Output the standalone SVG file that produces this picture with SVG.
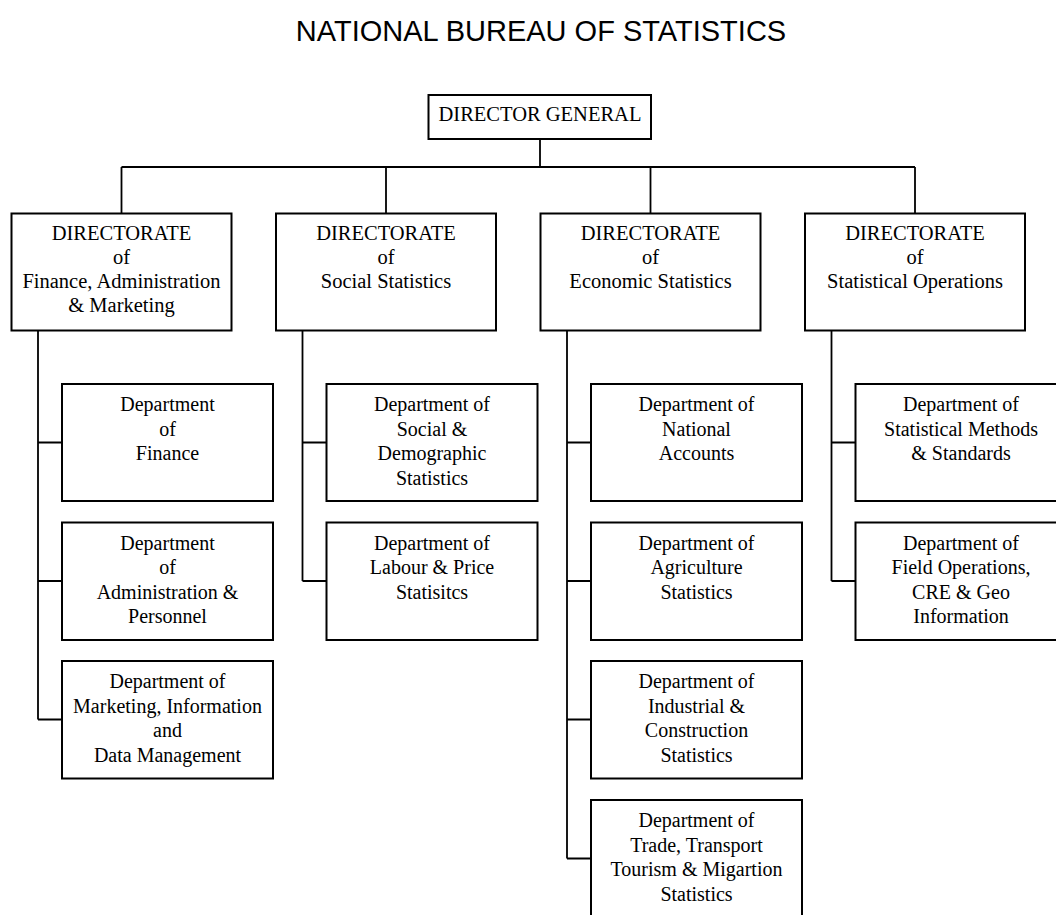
<svg xmlns="http://www.w3.org/2000/svg" width="1056" height="915" viewBox="0 0 1056 915">
<style>
.bx{fill:#fff;stroke:#000;stroke-width:2}
.ln{fill:none;stroke:#000;stroke-width:1.8}
.t{font-family:"Liberation Serif","Times New Roman",serif;font-size:20px;fill:#000;text-anchor:middle}
.d{font-size:20.5px}
.ttl{font-family:"Liberation Sans",Arial,sans-serif;font-size:29px;fill:#000;text-anchor:middle}
</style>
<rect width="1056" height="915" fill="#fff"/>
<text class="ttl" x="541" y="40.5">NATIONAL BUREAU OF STATISTICS</text>

<g id="connectors">
<path class="ln" d="M540,139 V167 M121.5,167 H915 M121.5,167 V213.5 M386,167 V213.5 M650.5,167 V213.5 M915,167 V213.5"/>
<path class="ln" d="M38,330.5 V719.5 M38,442.5 H62 M38,581 H62 M38,719.5 H62"/>
<path class="ln" d="M302.5,330.5 V581 M302.5,442.5 H326.5 M302.5,581 H326.5"/>
<path class="ln" d="M567,330.5 V858.5 M567,442.5 H591 M567,581 H591 M567,719.5 H591 M567,858.5 H591"/>
<path class="ln" d="M831.5,330.5 V581 M831.5,442.5 H855.5 M831.5,581 H855.5"/>
</g>

<g id="dg">
<rect class="bx" x="428.5" y="95" width="222.5" height="44"/>
<text class="t d" x="540" y="121">DIRECTOR GENERAL</text>
</g>

<g id="dir-fam">
<rect class="bx" x="11.5" y="213.5" width="220" height="117"/>
<text class="t d" x="121.5" y="239.5"><tspan x="121.5">DIRECTORATE</tspan><tspan x="121.5" dy="24.3">of</tspan><tspan x="121.5" dy="24.3">Finance, Administration</tspan><tspan x="121.5" dy="24.3">&amp; Marketing</tspan></text>
</g>
<g id="dir-social">
<rect class="bx" x="276" y="213.5" width="220" height="117"/>
<text class="t d" x="386" y="239.5"><tspan x="386">DIRECTORATE</tspan><tspan x="386" dy="24.3">of</tspan><tspan x="386" dy="24.3">Social Statistics</tspan></text>
</g>
<g id="dir-econ">
<rect class="bx" x="540.5" y="213.5" width="220" height="117"/>
<text class="t d" x="650.5" y="239.5"><tspan x="650.5">DIRECTORATE</tspan><tspan x="650.5" dy="24.3">of</tspan><tspan x="650.5" dy="24.3">Economic Statistics</tspan></text>
</g>
<g id="dir-ops">
<rect class="bx" x="805" y="213.5" width="220" height="117"/>
<text class="t d" x="915" y="239.5"><tspan x="915">DIRECTORATE</tspan><tspan x="915" dy="24.3">of</tspan><tspan x="915" dy="24.3">Statistical Operations</tspan></text>
</g>

<g id="dept-finance">
<rect class="bx" x="62" y="384" width="211" height="117"/>
<text class="t" y="411"><tspan x="167.5">Department</tspan><tspan x="167.5" dy="24.5">of</tspan><tspan x="167.5" dy="24.5">Finance</tspan></text>
</g>
<g id="dept-admin">
<rect class="bx" x="62" y="522.5" width="211" height="117.5"/>
<text class="t" y="549.5"><tspan x="167.5">Department</tspan><tspan x="167.5" dy="24.5">of</tspan><tspan x="167.5" dy="24.5">Administration &amp;</tspan><tspan x="167.5" dy="24.5">Personnel</tspan></text>
</g>
<g id="dept-marketing">
<rect class="bx" x="62" y="661" width="211" height="117.5"/>
<text class="t" y="688"><tspan x="167.5">Department of</tspan><tspan x="167.5" dy="24.5">Marketing, Information</tspan><tspan x="167.5" dy="24.5">and</tspan><tspan x="167.5" dy="24.5">Data Management</tspan></text>
</g>

<g id="dept-social">
<rect class="bx" x="326.5" y="384" width="211" height="117"/>
<text class="t" y="411"><tspan x="432">Department of</tspan><tspan x="432" dy="24.5">Social &amp;</tspan><tspan x="432" dy="24.5">Demographic</tspan><tspan x="432" dy="24.5">Statistics</tspan></text>
</g>
<g id="dept-labour">
<rect class="bx" x="326.5" y="522.5" width="211" height="117.5"/>
<text class="t" y="549.5"><tspan x="432">Department of</tspan><tspan x="432" dy="24.5">Labour &amp; Price</tspan><tspan x="432" dy="24.5">Statisitcs</tspan></text>
</g>

<g id="dept-national">
<rect class="bx" x="591" y="384" width="211" height="117"/>
<text class="t" y="411"><tspan x="696.5">Department of</tspan><tspan x="696.5" dy="24.5">National</tspan><tspan x="696.5" dy="24.5">Accounts</tspan></text>
</g>
<g id="dept-agri">
<rect class="bx" x="591" y="522.5" width="211" height="117.5"/>
<text class="t" y="549.5"><tspan x="696.5">Department of</tspan><tspan x="696.5" dy="24.5">Agriculture</tspan><tspan x="696.5" dy="24.5">Statistics</tspan></text>
</g>
<g id="dept-industrial">
<rect class="bx" x="591" y="661" width="211" height="117.5"/>
<text class="t" y="688"><tspan x="696.5">Department of</tspan><tspan x="696.5" dy="24.5">Industrial &amp;</tspan><tspan x="696.5" dy="24.5">Construction</tspan><tspan x="696.5" dy="24.5">Statistics</tspan></text>
</g>
<g id="dept-trade">
<rect class="bx" x="591" y="800" width="211" height="117.5"/>
<text class="t" y="827"><tspan x="696.5">Department of</tspan><tspan x="696.5" dy="24.5">Trade, Transport</tspan><tspan x="696.5" dy="24.5">Tourism &amp; Migartion</tspan><tspan x="696.5" dy="24.5">Statistics</tspan></text>
</g>

<g id="dept-methods">
<rect class="bx" x="855.5" y="384" width="211" height="117"/>
<text class="t" y="411"><tspan x="961">Department of</tspan><tspan x="961" dy="24.5">Statistical Methods</tspan><tspan x="961" dy="24.5">&amp; Standards</tspan></text>
</g>
<g id="dept-field">
<rect class="bx" x="855.5" y="522.5" width="211" height="117.5"/>
<text class="t" y="549.5"><tspan x="961">Department of</tspan><tspan x="961" dy="24.5">Field Operations,</tspan><tspan x="961" dy="24.5">CRE &amp; Geo</tspan><tspan x="961" dy="24.5">Information</tspan></text>
</g>
</svg>
